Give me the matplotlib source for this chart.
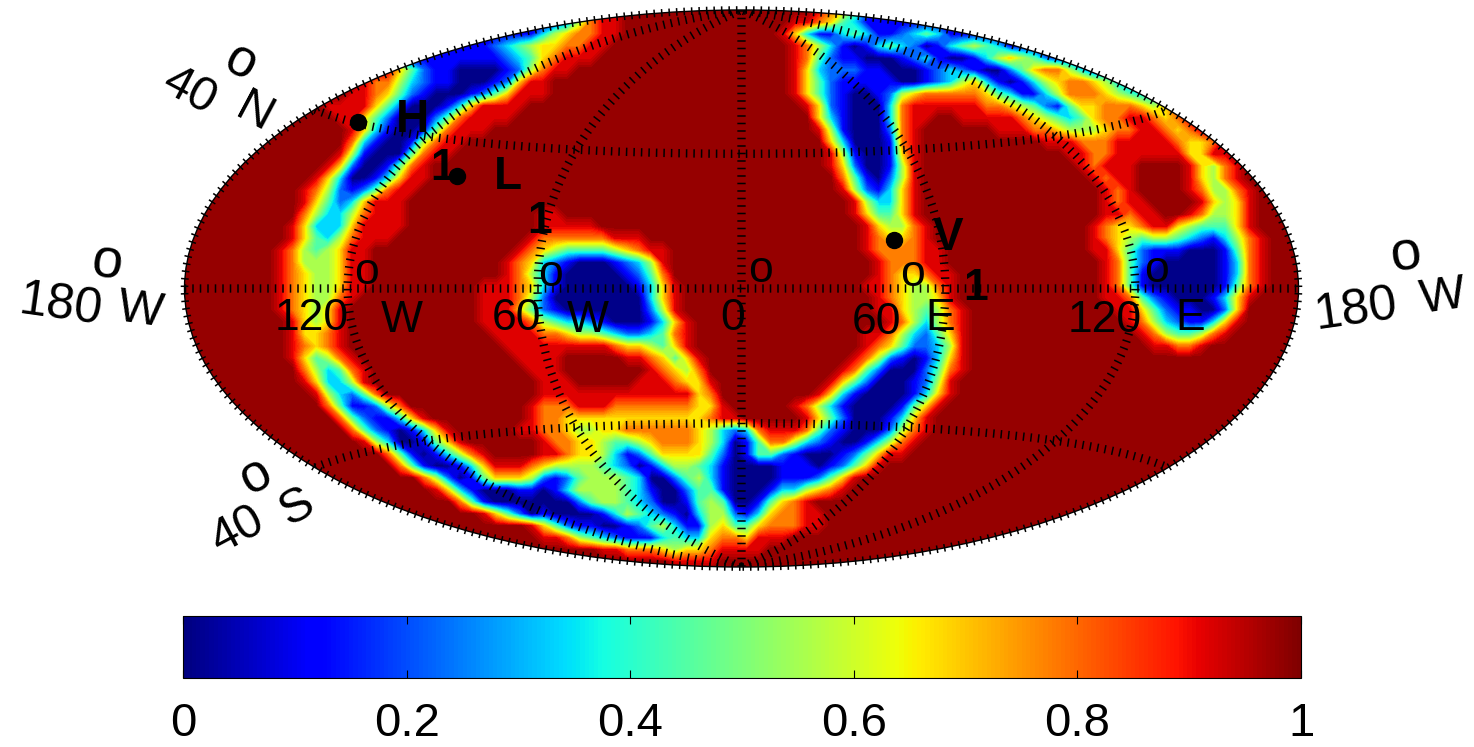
import matplotlib
matplotlib.use("Agg")
import matplotlib.pyplot as plt
import numpy as np

plt.rcParams["font.family"] = ["Liberation Sans", "DejaVu Sans"]
plt.rcParams["lines.scale_dashes"] = False

# map, one string per row (north to south), one digit per
# column (west to east) across the map plane, digit = step in digit_values
digit_values = [0.0, 0.11, 0.22, 0.33, 0.44, 0.55, 0.67, 0.78, 0.915, 0.98]

n = "9999999999"
b = "1111111111"
map_rows = [
    f"{b} {b} {b} 1136788999 {n} 9998764211 {b} {b} {b} 1111",
    f"{b} {b} {b} 1125788999 {n} 9887643111 {b} {b} {b} 1111",
    f"{b} {b} {b} 3567788999 {n} 8631134311 2343111111 {b} {b} 1111",
    f"{b} {b} 1111112345 6677889999 {n} 9875310134 3201345431 {b} {b} 1111",
    f"{b} {b} 1111111234 6788899999 {n} 9874211000 1231001356 5421111111 {b} 1111",
    f"{n} 9999999864 2110000125 7889999999 {n} 9863222110 0012321002 4677531111 {b} 1111",
    f"{n} 9999987753 2110001268 8999999999 {n} 9864211111 0012356310 1356776532 2222222222 2222",
    f"{n} 9999887642 1000124688 8999999999 {n} 9864210012 5677777643 1135777654 3333333333 5555",
    f"{n} 9988886420 0013688889 {n} {n} 9986210003 7888888776 5421466777 6568889999 9999",
    f"{n} 9998864200 0247888899 {n} {n} 9996310003 7889988888 7654346778 8767889999 9999",
    f"{n} 9999863100 1478889999 {n} {n} 9998510002 7899999988 8776555677 8876789999 9999",
    f"{n} 9999731001 5788999999 {n} {n} 9999630001 7899999999 9988877788 8887667999 9999",
    f"{n} 9998510004 7889999999 {n} {n} 9999851001 6899999999 9999887788 8888668899 9999",
    f"{n} 9986200147 8999999999 {n} {n} 9999862001 5899999999 9999987888 9999865789 9999",
    f"{n} 9863001368 8999999999 {n} {n} 9999974102 5899999999 9999998788 9999865789 9999",
    f"{n} 8752124788 {n} {n} {n} 9999985213 6899999999 9999999878 9999875578 9999",
    f"{n} 8642368889 {n} {n} {n} 9999998533 6899999999 9999999878 8999986568 9999",
    f"{n} 7533578889 {n} 8899999999 {n} 9999998644 6899999999 9999999887 8899875568 9999",
    f"9999999998 6333688889 {n} 8888899999 {n} 9999999865 5789999999 9999998766 7886544468 9999",
    f"9999999998 6435788899 9999999998 7777778889 {n} 9999999876 6789999999 9999998765 4554321357 8999",
    f"9999999987 5456889999 9999999987 6544445678 8999999999 9999999877 7788999999 9999998864 2111000147 8999",
    f"9999999987 5556889999 9999999876 3210001235 8999999999 9999999987 7788999999 9999999874 2100000137 8999",
    f"9999999987 6556889999 9999999875 3100000124 7999999999 9999999987 6678899999 9999999874 1000000137 8999",
    f"9999999987 6556889999 9999988876 3100000013 6899999999 9999999887 6557899999 9999999874 1000000147 8999",
    f"9999999987 6557899999 9999988875 2000000003 6899999999 9999999987 6556899999 9999999887 4210001368 9999",
    f"9999999987 6568999999 9999988864 2100000002 5899999999 9999999988 6545789999 9999999988 6421100269 9999",
    f"9999999998 6568999999 9999988887 5433210001 3689999999 9999999998 7535789999 9999999998 7532113689 9999",
    f"9999999998 6678999999 9999998888 7765543223 4789999999 9999999887 5324689999 {n} 8754457899 9999",
    f"9999999998 7678999999 9999999888 8888887665 4689999999 9999999876 4223589999 {n} 9887789999 9999",
    f"9999999998 6457899999 9999999988 8899999887 6468999999 9999998752 1013689999 {n} {n} 9999",
    f"{n} 7534789999 9999999998 8899999998 7657999999 9999987420 0024789999 {n} {n} 9999",
    f"{n} 8633589999 {n} 8889999988 8766899999 9999864200 0125899999 {n} {n} 9999",
    f"{n} 9853247999 {n} 8888888888 8886799999 9998631000 0136899999 {n} {n} 9999",
    f"{n} 9974112579 9999999998 7778887777 7776689999 9875310000 1468999999 {n} {n} 9999",
    f"{n} 9997421136 8999999998 7766666666 6666788999 9986420001 3689999999 {n} {n} 9999",
    f"{n} 9999742101 3689999988 7765566777 7776532378 8874210002 5789999999 {n} {n} 9999",
    f"{n} 9999985300 1468999999 8776654456 7776530147 7532100135 7899999999 {n} {n} 9999",
    f"{n} 9999999741 0135789999 8876653124 6666420144 2100012468 8999999999 {n} {n} 9999",
    f"{n} 9999999974 1001368887 6555543201 3554310000 1110124689 {n} {n} {n} 9999",
    f"{n} {n} 7520146665 2124555430 0245310000 1112468999 {n} {n} {n} 9999",
    f"{n} {n} 9863100011 0135555431 0024410001 3356789999 {n} {n} {n} 9999",
    f"{n} {n} 9997410000 0002455432 0014540014 6789999999 {n} {n} {n} 9999",
    f"{n} {n} 9999986420 1000013543 2103552136 7788999999 {n} {n} {n} 9999",
    f"{n} {n} 9999999998 6421100124 5311564467 7788999999 {n} {n} {n} 9999",
    f"{n} {n} {n} 8875432111 3433677688 8999999999 {n} {n} {n} 9999",
    f"{n} {n} {n} 9999988777 6566788889 {n} {n} {n} {n} 9999",
    f"{n} {n} {n} {n} 9888899999 {n} {n} {n} {n} 9999",
    f"{n} {n} {n} {n} {n} {n} {n} {n} {n} 9999",
]

# observatories, degrees
site_names = ["H", "L", "V"]
site_lon = [-154.4, -96.2, 45.7]
site_lat = [40.3, 30.6, 13.9]

meridians = [-120, -60, 0, 60, 120]
parallels = [-40, 0, 40]
bar_ticks = [0, 0.2, 0.4, 0.6, 0.8, 1]
bar_labels = ["0", "0.2", "0.4", "0.6", "0.8", "1"]

W, H = 1474, 747
fig = plt.figure(figsize=(W / 100, H / 100), dpi=100)


def box(x0, y0, x1, y1):
    return [x0 / W, 1 - y1 / H, (x1 - x0) / W, (y1 - y0) / H]


def put(x, y, s, size=32, rot=0, weight="normal"):
    fig.text(x / W, 1 - y / H, s, fontsize=size, rotation=rot, fontweight=weight,
             ha="center", va="center", rotation_mode="anchor", zorder=10)


ax = fig.add_axes(box(183, 10, 1300, 567), projection="hammer")
ax.grid(False)
ax.set_xticklabels([])
ax.set_yticklabels([])
ax.spines["geo"].set_linewidth(1.0)

grid = np.array([[digit_values[int(c)] for c in r.replace(" ", "")] for r in map_rows])
map_x = np.arange(grid.shape[1]) * 12 / 1117
map_y = 1 - np.arange(grid.shape[0]) * 12 / 557
ax.contourf(map_x, map_y, grid, levels=np.linspace(0, 1, 65), cmap="jet",
            vmin=0, vmax=1, transform=ax.transAxes)

# dotted lines with wide pen, so the dots look like small cross ticks
dot = dict(color="k", linestyle=(0, (1.1, 4.3)), dash_capstyle="butt", solid_capstyle="butt")
lat_line = np.radians(np.linspace(-89.9, 89.9, 361))
lon_line = np.radians(np.linspace(-179.9, 179.9, 721))
for m in meridians:
    ax.plot(np.full_like(lat_line, np.radians(m)), lat_line, lw=6.0, **dot)
for p in parallels:
    ax.plot(lon_line, np.full_like(lon_line, np.radians(p)), lw=6.0, **dot)
for side in [-179.99, 179.99]:
    ax.plot(np.full_like(lat_line, np.radians(side)), lat_line, lw=5.5, clip_on=False, **dot)

ax.plot(np.radians(site_lon), np.radians(site_lat), "o", color="k", ms=11.5, ls="none", zorder=6)

put(60, 306, "180", size=36, rot=-8)
put(107, 264, "o", size=40, rot=-8)
put(140, 311, "W", size=35, rot=-8)
put(1356, 310, "180", size=36, rot=8)
put(1406, 255, "o", size=40, rot=8)
put(1443, 297, "W", size=35, rot=8)
put(190, 92, "40", size=35, rot=-28)
put(241, 63, "o", size=38, rot=-28)
put(254, 113, "N", size=35, rot=-28)
put(238, 530, "40", size=35, rot=28)
put(256, 476, "o", size=38, rot=28)
put(297, 507, "S", size=35, rot=28)
put(312, 318, "120")
put(366, 272, "o")
put(402, 320, "W")
put(517, 318, "60")
put(550, 274, "o")
put(588, 320, "W")
put(733, 318, "0")
put(760, 270, "o")
put(877, 322, "60")
put(913, 274, "o")
put(940, 318, "E")
put(1105, 320, "120")
put(1157, 270, "o")
put(1190, 318, "E")
put(443, 168, "1", size=32, weight="bold")
put(540, 222, "1", size=32, weight="bold")
put(976, 288, "1", size=32, weight="bold")
put(412, 120, site_names[0], size=33, weight="bold")
put(508, 177, site_names[1], size=33, weight="bold")
put(948, 238, site_names[2], size=33, weight="bold")

cax = fig.add_axes(box(183, 616, 1301, 678))
sm = plt.cm.ScalarMappable(norm=plt.Normalize(0, 1), cmap="jet")
cb = fig.colorbar(sm, cax=cax, orientation="horizontal")
cb.set_ticks(bar_ticks)
cb.set_ticklabels(bar_labels)
cb.ax.tick_params(axis="x", direction="in", top=True, length=6, width=0.8, labelsize=34, pad=17)
cb.outline.set_linewidth(0.8)

fig.savefig("out.png", dpi=100)
